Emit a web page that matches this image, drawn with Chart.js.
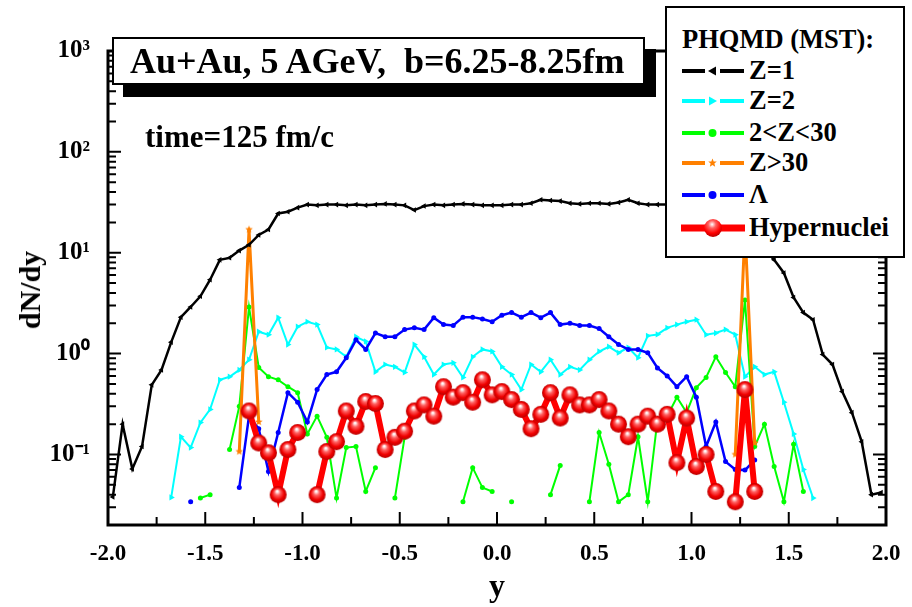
<!DOCTYPE html>
<html>
<head>
<meta charset="utf-8">
<title>dN/dy vs y</title>
<script src="https://cdn.jsdelivr.net/npm/chart.js@4.4.1/dist/chart.umd.min.js"></script>
<style>
  html, body { margin: 0; padding: 0; background: #fff; }
  #wrap { position: relative; width: 912px; height: 607px; overflow: hidden; }
  #chart { position: absolute; left: 0; top: 0; }
  .txt { position: absolute; font-family: "Liberation Serif", "Times New Roman", serif; font-weight: bold; color: #000; white-space: pre; }
  #titlebox { left: 112px; top: 37px; width: 533px; height: 48px; box-sizing: border-box; border: 2px solid #000; background: #fff;
              box-shadow: 11px 12px 0 #000; font-size: 36px; line-height: 44px; padding-left: 16px; }
  #timelbl { left: 145px; top: 119px; font-size: 31px; line-height: 36px; }
  #ytitle { left: 30px; top: 290px; font-size: 30px; line-height: 34px; transform: translate(-50%, -50%) rotate(-90deg); }
  #legend { position: absolute; left: 665px; top: 6px; width: 240px; height: 252px; box-sizing: border-box; border: 2.5px solid #000; background: #fff; }
  #legend .head { left: 15px; top: 16px; font-size: 26.5px; line-height: 30px; }
  .row { position: absolute; left: 13px; height: 30px; display: flex; align-items: center; }
  .row svg { display: block; }
  .row span { font-family: "Liberation Serif", "Times New Roman", serif; font-weight: bold; font-size: 26.5px; margin-left: 3px; color: #000; }
</style>
</head>
<body>
<div id="wrap">
  <canvas id="chart" width="912" height="607"></canvas>
  <div id="titlebox" class="txt">Au+Au, 5 AGeV,  b=6.25-8.25fm</div>
  <div id="timelbl" class="txt">time=125 fm/c</div>
  <div id="ytitle" class="txt">dN/dy</div>
  <div id="legend">
    <div class="txt head">PHQMD (MST):</div>
  </div>
</div>
<script>
// rapidity bins (centres), 0.05 wide, from -2 to 2
const yBins = Array.from({ length: 80 }, (_, k) => -1.975 + 0.05 * k);

const z1 = [
  0.038, 0.20, 0.072, 0.12, 0.49, 0.69, 1.3, 2.3, 2.9, 3.7,
  5.4, 8.5, 8.9, 10.5, 12, 15, 17, 24.5, 25.5, 28,
  30, 29.5, 30, 30, 29.5, 30, 29.5, 30, 30.5, 30,
  29.5, 26.5, 29, 30, 29.5, 30, 30.5, 30, 29.5, 29.5,
  29.5, 30, 30, 31, 33.5, 33, 32.5, 31, 30.5, 31,
  31, 30.5, 31.5, 33.5, 31, 30, 30, 30, 30, 30,
  29.5, 29, 28, 25, 20, 16, 13, 11, 8.5, 6.3,
  3.6, 2.55, 2.17, 0.98, 0.78, 0.42, 0.26, 0.134, 0.040, 0.042
];
const z2 = [
  null, null, null, null, null, null, 0.0375, 0.15, 0.117, 0.207,
  0.28, 0.55, 0.59, 0.69, 0.87, 1.65, 1.54, 2.27, 1.23, 1.85,
  2.07, 1.94, 1.15, 1.1, 0.93, 1.47, 1.32, 0.66, 0.78, 0.74,
  0.65, 1.23, 0.93, 0.62, 0.78, 0.81, 0.58, 0.93, 1.1, 1.05,
  0.74, 0.62, 0.44, 0.78, 0.66, 0.87, 0.62, 0.74, 0.69, 0.87,
  1.05, 1.17, 1.02, 1.15, 0.91, 1.5, 1.55, 1.8, 1.94, 2.07,
  2.17, 1.54, 1.6, 1.73, 1.54, 0.59, 0.74, 0.62, 0.66, 0.33,
  0.16, 0.071, 0.037, null, null, null, null, null, null, null
];
const zMid = [
  null, null, null, null, null, null, null, null, null, 0.037,
  0.040, null, 0.112, 0.30, 2.9, 0.73, 0.59, 0.55, 0.47, 0.41,
  0.16, 0.24, 0.148, 0.037, 0.117, 0.12, 0.043, 0.074, null, 0.037,
  0.148, null, null, null, null, null, 0.034, 0.074, 0.047, 0.043,
  null, 0.034, null, null, null, 0.040, 0.078, null, null, 0.034,
  0.165, 0.08, 0.034, 0.040, 0.15, 0.034, 0.22, 0.24, 0.37, 0.26,
  0.46, 0.58, 0.93, 0.65, 0.47, 3.4, 0.12, 0.2, 0.076, 0.034,
  0.126, 0.043, null, null, null, null, null, null, null, null
];
const zBig = [
  null, null, null, null, null, null, null, null, null, null,
  null, null, null, 0.107, 17, 0.21, null, null, null, null,
  null, null, null, null, null, null, null, null, null, null,
  null, null, null, null, null, null, null, null, null, null,
  null, null, null, null, null, null, null, null, null, null,
  null, null, null, null, null, null, null, null, null, null,
  null, null, null, null, 0.1, 17, 0.13, null, null, null,
  null, null, null, null, null, null, null, null, null, null
];
const lambda = [
  null, null, null, null, null, null, null, null, 0.034, null,
  null, null, null, 0.047, 0.24, 0.18, 0.068, 0.165, 0.41, 0.33,
  0.21, 0.44, 0.62, 0.66, 0.91, 1.37, 1.1, 1.6, 1.47, 1.47,
  1.73, 1.8, 1.73, 2.27, 1.94, 1.9, 2.3, 2.3, 2.2, 2.07,
  2.4, 2.55, 2.3, 2.55, 2.27, 2.55, 1.94, 2.0, 1.9, 1.9,
  1.77, 1.47, 1.23, 1.1, 1.1, 1.02, 0.72, 0.6, 0.47, 0.59,
  0.37, 0.12, 0.21, 0.085, 0.071, 0.07, 0.088, null, null, null,
  null, null, null, null, null, null, null, null, null, null
];
const hyper = [
  null, null, null, null, null, null, null, null, null, null,
  null, null, null, null, 0.27, 0.13, 0.104, 0.040, 0.112, 0.165,
  null, 0.040, 0.107, 0.134, 0.27, 0.19, 0.335, 0.32, 0.112, 0.148,
  0.17, 0.27, 0.31, 0.24, 0.47, 0.37, 0.41, 0.33, 0.55, 0.39,
  0.42, 0.35, 0.28, 0.18, 0.25, 0.41, 0.23, 0.39, 0.31, 0.31,
  0.35, 0.27, 0.2, 0.15, 0.2, 0.24, 0.2, 0.25, 0.083, 0.23,
  0.076, 0.1, 0.043, null, 0.034, 0.44, 0.043, null, null, null,
  null, null, null, null, null, null, null, null, null, null
];

const xTickLabels = ['-2.0', '-1.5', '-1.0', '-0.5', '0.0', '0.5', '1.0', '1.5', '2.0'];
const sup = { '-1': '\u207B\u00B9', '0': '\u2070', '1': '\u00B9', '2': '\u00B2', '3': '\u00B3' };

const serif = '"Liberation Serif", "Times New Roman", serif';

function sphere(r) {
  const c = document.createElement('canvas');
  c.width = c.height = 2 * r + 2;
  const g = c.getContext('2d');
  const m = r + 1;
  const grad = g.createRadialGradient(m - 1, m - r * 0.4, r * 0.08, m, m, r);
  grad.addColorStop(0, '#ffffff');
  grad.addColorStop(0.3, '#ff6060');
  grad.addColorStop(0.7, '#f00000');
  grad.addColorStop(1, '#b80000');
  g.fillStyle = grad;
  g.beginPath();
  g.arc(m, m, r, 0, Math.PI * 2);
  g.fill();
  return c;
}

function star(r, color) {
  const c = document.createElement('canvas');
  c.width = c.height = 2 * r + 2;
  const g = c.getContext('2d');
  const m = r + 1;
  g.fillStyle = color;
  g.beginPath();
  for (let i = 0; i < 10; i++) {
    const rr = i % 2 ? r * 0.45 : r;
    const a = -Math.PI / 2 + i * Math.PI / 5;
    g.lineTo(m + rr * Math.cos(a), m + rr * Math.sin(a));
  }
  g.closePath();
  g.fill();
  return c;
}

function pts(arr) {
  return yBins.map((x, i) => ({ x: x, y: arr[i] }));
}

const datasets = [
  { label: 'Hypernuclei', data: pts(hyper), borderColor: '#ff0000', borderWidth: 6, pointStyle: sphere(8.5), pointRadius: 8, order: 0 },
  { label: 'Z=1', data: pts(z1), borderColor: '#000000', backgroundColor: '#000000', borderWidth: 2.5,
    pointStyle: 'triangle', pointRotation: -90, pointRadius: 3.2, pointBorderWidth: 0, order: 1 },
  { label: 'Z>30', data: pts(zBig), borderColor: '#ff8000', backgroundColor: '#ff8000', borderWidth: 3,
    pointStyle: star(4, '#ff8000'), pointRadius: 4, order: 2 },
  { label: '\u039B', data: pts(lambda), borderColor: '#0000ff', backgroundColor: '#0000ff', borderWidth: 2.5,
    pointStyle: 'circle', pointRadius: 2.5, pointBorderWidth: 0, order: 3 },
  { label: '2<Z<30', data: pts(zMid), borderColor: '#00ff00', backgroundColor: '#00ff00', borderWidth: 2,
    pointStyle: 'circle', pointRadius: 2.5, pointBorderWidth: 0, order: 4 },
  { label: 'Z=2', data: pts(z2), borderColor: '#00ffff', backgroundColor: '#00ffff', borderWidth: 2,
    pointStyle: 'triangle', pointRotation: 90, pointRadius: 3.6, pointBorderWidth: 0, order: 5 }
];

// inward ticks on all four sides + thick frame
const frame = {
  id: 'frame',
  afterDatasetsDraw(chart) {
    const { ctx, chartArea: a, scales: { x, y } } = chart;
    ctx.save();
    ctx.strokeStyle = '#000';
    ctx.lineWidth = 2;
    ctx.beginPath();
    for (let v = -2; v <= 2.0001; v += 0.25) {
      const px = x.getPixelForValue(v);
      const len = Math.abs(v * 2 - Math.round(v * 2)) < 1e-6 ? 13 : 8;
      ctx.moveTo(px, a.bottom); ctx.lineTo(px, a.bottom - len);
      ctx.moveTo(px, a.top); ctx.lineTo(px, a.top + len);
    }
    for (let d = -2; d <= 3; d++) {
      for (let m = 1; m <= 9; m++) {
        const v = m * Math.pow(10, d);
        if (v < 0.02 - 1e-9 || v > 1000 + 1e-9) continue;
        const py = y.getPixelForValue(v);
        const len = m === 1 ? 13 : 8;
        ctx.moveTo(a.left, py); ctx.lineTo(a.left + len, py);
        ctx.moveTo(a.right, py); ctx.lineTo(a.right - len, py);
      }
    }
    ctx.stroke();
    ctx.lineWidth = 3;
    ctx.strokeRect(a.left, a.top, a.right - a.left, a.bottom - a.top);
    ctx.restore();
  }
};

new Chart(document.getElementById('chart'), {
  type: 'line',
  data: { datasets: datasets },
  options: {
    responsive: false,
    animation: false,
    devicePixelRatio: 1,
    layout: { padding: { top: 51, right: 26, left: 0, bottom: 0 } },
    plugins: { legend: { display: false }, tooltip: { enabled: false } },
    scales: {
      x: {
        type: 'linear', min: -2, max: 2,
        grid: { display: false }, border: { display: false },
        ticks: {
          stepSize: 0.5, autoSkip: false, maxRotation: 0, padding: 7, color: '#000',
          font: { family: serif, size: 23, weight: 'bold' },
          callback: (v) => xTickLabels[Math.round((v + 2) * 2)]
        },
        title: { display: true, text: 'y', color: '#000', font: { family: serif, size: 32, weight: 'bold' }, padding: { top: 0, bottom: 0 } },
        afterFit: (s) => { s.height = 82; }
      },
      y: {
        type: 'logarithmic', min: 0.02, max: 1000,
        grid: { display: false }, border: { display: false },
        ticks: {
          autoSkip: false, padding: 10, color: '#000',
          font: { family: serif, size: 25, weight: 'bold' },
          callback: (v) => {
            const e = Math.log10(v);
            const r = Math.round(e);
            return Math.abs(e - r) < 1e-6 ? '10' + sup[String(r)] : '';
          }
        },
        afterFit: (s) => { s.width = 108; }
      }
    }
  },
  plugins: [frame]
});

// legend (line - marker - line samples, as in the figure)
const legendRows = [
  { text: 'Z=1', color: '#000000', marker: 'left', cy: 62.5 },
  { text: 'Z=2', color: '#00ffff', marker: 'right', cy: 92.5 },
  { text: '2<Z<30', color: '#00ff00', marker: 'dot', cy: 124.5 },
  { text: 'Z>30', color: '#ff8000', marker: 'star', cy: 154.5 },
  { text: '\u039B', color: '#0000ff', marker: 'dot', cy: 186.5 },
  { text: 'Hypernuclei', color: '#ff0000', marker: 'sphere', cy: 219.5 }
];

function markerSvg(row) {
  const c = row.color;
  if (row.marker === 'sphere') {
    return '<svg width="66" height="24"><defs><radialGradient id="sg" cx="0.45" cy="0.3" r="0.7">' +
      '<stop offset="0" stop-color="#fff"/><stop offset="0.3" stop-color="#ff6060"/><stop offset="0.7" stop-color="#f00"/><stop offset="1" stop-color="#b80000"/>' +
      '</radialGradient></defs><line x1="1" y1="12" x2="65" y2="12" stroke="' + c + '" stroke-width="7"/>' +
      '<circle cx="33" cy="12" r="9" fill="url(#sg)"/></svg>';
  }
  let m = '';
  if (row.marker === 'left') m = '<polygon points="28,10 36,5.5 36,14.5" fill="' + c + '"/>';
  if (row.marker === 'right') m = '<polygon points="37,10 29,5.5 29,14.5" fill="' + c + '"/>';
  if (row.marker === 'dot') m = '<circle cx="32.5" cy="10" r="4" fill="' + c + '"/>';
  if (row.marker === 'star') {
    let p = [];
    for (let i = 0; i < 10; i++) {
      const rr = i % 2 ? 2 : 4.5;
      const a = -Math.PI / 2 + i * Math.PI / 5;
      p.push((32.5 + rr * Math.cos(a)).toFixed(2) + ',' + (10 + rr * Math.sin(a)).toFixed(2));
    }
    m = '<polygon points="' + p.join(' ') + '" fill="' + c + '"/>';
  }
  return '<svg width="66" height="20"><line x1="2" y1="10" x2="25" y2="10" stroke="' + c + '" stroke-width="4"/>' +
    '<line x1="40" y1="10" x2="64" y2="10" stroke="' + c + '" stroke-width="4"/>' + m + '</svg>';
}

const legendBox = document.getElementById('legend');
legendRows.forEach((row) => {
  const div = document.createElement('div');
  div.className = 'row';
  div.style.top = (row.cy - 15) + 'px';
  div.innerHTML = markerSvg(row);
  const span = document.createElement('span');
  span.textContent = row.text;
  div.appendChild(span);
  legendBox.appendChild(div);
});
</script>
</body>
</html>
